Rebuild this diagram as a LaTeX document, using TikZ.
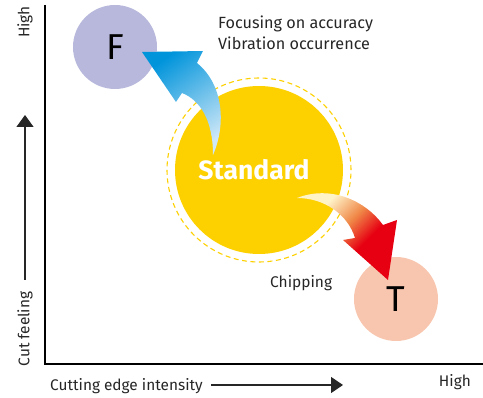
\documentclass[tikz,border=0pt]{standalone}
\usepackage{fontspec}
\setmainfont{Fira Sans}
\usetikzlibrary{arrows.meta}
\definecolor{stdyellow}{HTML}{FDD000}
\definecolor{flav}{HTML}{B7B8DC}
\definecolor{tpeach}{HTML}{F8C6AF}
\definecolor{bdark}{HTML}{0094DB}
\definecolor{blight}{HTML}{CFE8F8}
\definecolor{rdark}{HTML}{E60012}
\definecolor{rmid}{HTML}{F08848}
\definecolor{rlight}{HTML}{FFF3C8}
\pgfdeclareverticalshading{redarrowshade}{100bp}{color(0bp)=(rdark); color(25bp)=(rdark); color(40bp)=(rdark); color(53bp)=(rmid); color(68bp)=(rlight); color(100bp)=(rlight)}
\begin{document}
\begin{tikzpicture}[x=1pt,y=-1pt,
  lbl/.style={font=\fontsize{16.2}{19}\selectfont, text=black!85, inner sep=0pt},
  axislbl/.style={font=\fontsize{15.4}{17}\selectfont, text=black!85, inner sep=0pt},
  axisline/.style={line width=2pt, black},
  dirarrow/.style={line width=1.3pt, black!85}]
\useasboundingbox (0,0) rectangle (483,398);
% axes
\coordinate (ytop) at (45,5);
\coordinate (orig) at (45,364);
\coordinate (xend) at (483,364);
\draw[axisline] (ytop) -- (orig) -- (xend);
% circles
\node[circle, draw=stdyellow, dashed, dash pattern=on 5pt off 3.5pt, line width=1.1pt, minimum size=184pt, inner sep=0pt] (dash) at (259,170) {};
\node[circle, fill=stdyellow, minimum size=168pt, inner sep=0pt] (std) at (259,170) {};
\node[text=white, font=\bfseries\fontsize{26.5}{30}\selectfont, inner sep=0pt, anchor=base] (stdlbl) at (254,180) {Standard};
\node[circle, fill=flav, minimum size=84pt, inner sep=0pt, font=\fontsize{36}{40}\selectfont] (F) at (115,47) {F};
\node[circle, fill=tpeach, minimum size=84pt, inner sep=0pt, font=\fontsize{36}{40}\selectfont] (T) at (396,299) {T};
% blue arrow
\shade[top color=bdark, bottom color=blight, shading angle=35]
  (213,155) .. controls (226,125) and (224,85) .. (197,63)
  -- (203,51) -- (142,52) -- (176,102) -- (182,93)
  .. controls (200,100) and (213,120) .. cycle;
% red arrow
\shade[shading=redarrowshade, shading angle=45]
  (297,198) .. controls (330,185) and (365,200) .. (383,225)
  -- (397,220) -- (388,280) -- (343,240) -- (355,238)
  .. controls (348,215) and (325,198) .. cycle;
% texts
\node[lbl, anchor=base west] (t1) at (218,29) {Focusing on accuracy};
\node[lbl, anchor=base west] (t2) at (218,50) {Vibration occurrence};
\node[lbl, anchor=base west, font=\fontsize{15.5}{17}\selectfont] (chip) at (270,288) {Chipping};
\node[axislbl, rotate=90] (yhigh) at (25,22) {High};
\node[axislbl, rotate=90] (ylab) at (25,329) {Cut feeling};
\node[axislbl, anchor=base west] (xlab) at (50,391) {Cutting edge intensity};
\node[axislbl, anchor=base east] (xhigh) at (471,387) {High};
% direction arrows
\coordinate (ya) at (25,280);
\coordinate (yb) at (25,115);
\coordinate (xa) at (211,385);
\coordinate (xb) at (343,385);
\draw[dirarrow, -{Triangle[length=12pt,width=17pt]}] (ya) -- (yb);
\draw[dirarrow, -{Triangle[length=12pt,width=16pt]}] (xa) -- (xb);
\end{tikzpicture}
\end{document}
